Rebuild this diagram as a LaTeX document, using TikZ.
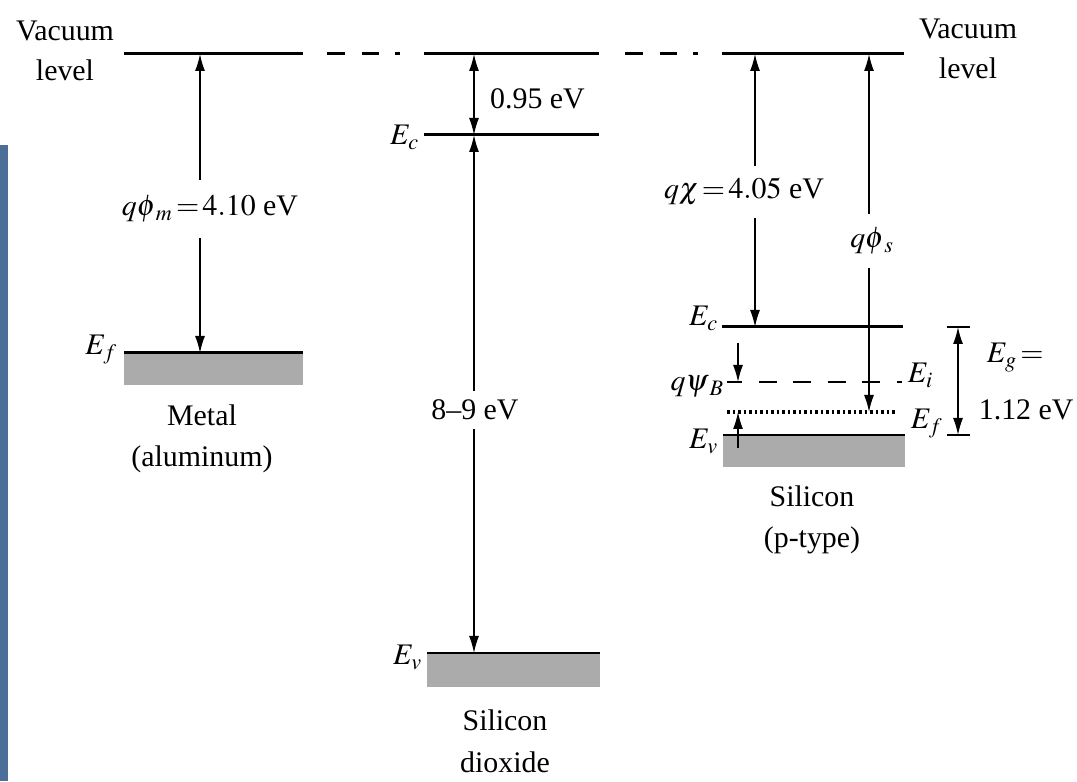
\documentclass[tikz,border=0pt]{standalone}
\usepackage{mathptmx}
\usepackage[no-math]{fontspec}
\setmainfont{Liberation Serif}
\usetikzlibrary{arrows.meta}
\definecolor{slideblue}{RGB}{75,111,152}
\tikzset{lvl/.style={line width=1.7pt},
  bnd/.style={fill=black!33},
  dim/.style={line width=0.8pt, {Latex[length=0.34cm,width=0.2cm]}-{Latex[length=0.34cm,width=0.2cm]}},
  ptr/.style={line width=0.8pt, -{Latex[length=0.34cm,width=0.2cm]}},
  gapl/.style={fill=white, inner xsep=1pt, inner ysep=5pt},
  vacdash/.style={lvl, dash pattern=on 0.36cm off 0.33cm on 0.34cm off 0.33cm on 0.1cm off 1cm}}

\begin{document}
\begin{tikzpicture}[font=\fontsize{17}{23}\selectfont]
  \useasboundingbox (0,0) rectangle (21.54,15.62);
  \fill[slideblue] (0,0) rectangle (0.16,12.72);

  % ---------- vacuum level ----------
  \draw[lvl] (2.48,14.54) -- (6.06,14.54);
  \draw[vacdash] (6.54,14.54) -- (8.0,14.54);
  \draw[lvl] (8.48,14.54) -- (11.98,14.54);
  \draw[vacdash] (12.5,14.54) -- (13.96,14.54);
  \draw[lvl] (14.44,14.54) -- (18.08,14.54);
  \node[align=center] (vacL) at (1.3,14.6) {Vacuum\\level};
  \node[align=center] (vacR) at (19.36,14.64) {Vacuum\\level};

  % ---------- metal ----------
  \fill[bnd] (2.48,7.92) rectangle (6.06,8.56);
  \draw[lvl] (2.48,8.56) -- (6.06,8.56);
  \node[anchor=base east, inner sep=2pt] (EfM) at (2.42,8.52) {$E_f$};
  \draw[dim] (4.0,8.56) -- (4.0,14.54);
  \node[gapl, inner ysep=9pt] (phim) at (4.2,11.44) {$q\phi_{\kern2pt m}\,{=}\,4.10$ eV};
  \node[align=center] (metal) at (4.04,6.84) {Metal\\(aluminum)};

  % ---------- oxide ----------
  \draw[lvl] (8.48,12.92) -- (11.98,12.92);
  \fill[bnd] (8.54,1.88) rectangle (12.0,2.56);
  \draw[lvl] (8.54,2.56) -- (12.0,2.56);
  \draw[dim] (9.48,14.54) -- (9.48,12.92);
  \draw[dim] (9.48,12.92) -- (9.48,2.56);
  \node[anchor=west] (dEc) at (9.68,13.64) {0.95 eV};
  \node[gapl] (gapox) at (9.5,7.42) {8--9 eV};
  \node[anchor=base east, inner sep=2pt] (EcOx) at (8.46,12.72) {$E_c$};
  \node[anchor=base east, inner sep=2pt] (EvOx) at (8.52,2.32) {$E_v$};
  \node[align=center] (oxide) at (10.1,0.8) {Silicon\\[1pt]dioxide};

  % ---------- silicon ----------
  \draw[lvl] (14.44,9.08) -- (18.06,9.08);
  \draw[lvl, dash pattern=on 0.36cm off 0.33cm, dash phase=0.06cm] (14.54,7.98) -- (18.04,7.98);
  \draw[line width=1.8pt, dash pattern=on 0.05cm off 0.06cm] (14.54,7.38) -- (17.94,7.38);
  \fill[bnd] (14.46,6.28) rectangle (18.1,6.92);
  \draw[lvl] (14.46,6.92) -- (18.1,6.92);
  \draw[dim] (15.1,14.54) -- (15.1,9.08);
  \draw[dim] (17.38,14.54) -- (17.38,7.38);
  \draw[ptr] (14.76,8.76) -- (14.76,7.98);
  \draw[ptr] (14.76,6.66) -- (14.76,7.38);
  \node[gapl, inner ysep=7pt] (chi) at (14.88,11.78) {$q\chi\,{=}\,4.05$ eV};
  \node[gapl, inner ysep=8pt] (phis) at (17.44,10.8) {$q\phi_{\kern2pt s}$};
  \node[anchor=base east, inner sep=2pt] (EcSi) at (14.44,9.1) {$E_c$};
  \node[anchor=base east, inner sep=1pt] (psiB) at (14.52,7.8) {$q\psi_{\kern2pt B}$};
  \node[anchor=base east, inner sep=2pt] (EvSi) at (14.44,6.64) {$E_v$};
  \node[anchor=base west, inner sep=2pt] (Ei) at (18.08,7.96) {$E_i$};
  \node[anchor=base west, inner sep=2pt] (EfSi) at (18.14,7.04) {$E_f$};
  \node[align=center] (si) at (16.24,5.22) {Silicon\\(p-type)};

  % ---------- band gap ----------
  \draw[line width=1.2pt] (18.94,9.08) -- (19.4,9.08);
  \draw[line width=1.2pt] (18.94,6.92) -- (19.4,6.92);
  \draw[dim] (19.16,9.08) -- (19.16,6.92);
  \node[anchor=base west, inner sep=2pt] (Eg) at (19.66,8.36) {$E_g\,{=}$};
  \node[anchor=base west, inner sep=2pt] (Egval) at (19.5,7.22) {1.12 eV};

\end{tikzpicture}
\end{document}
